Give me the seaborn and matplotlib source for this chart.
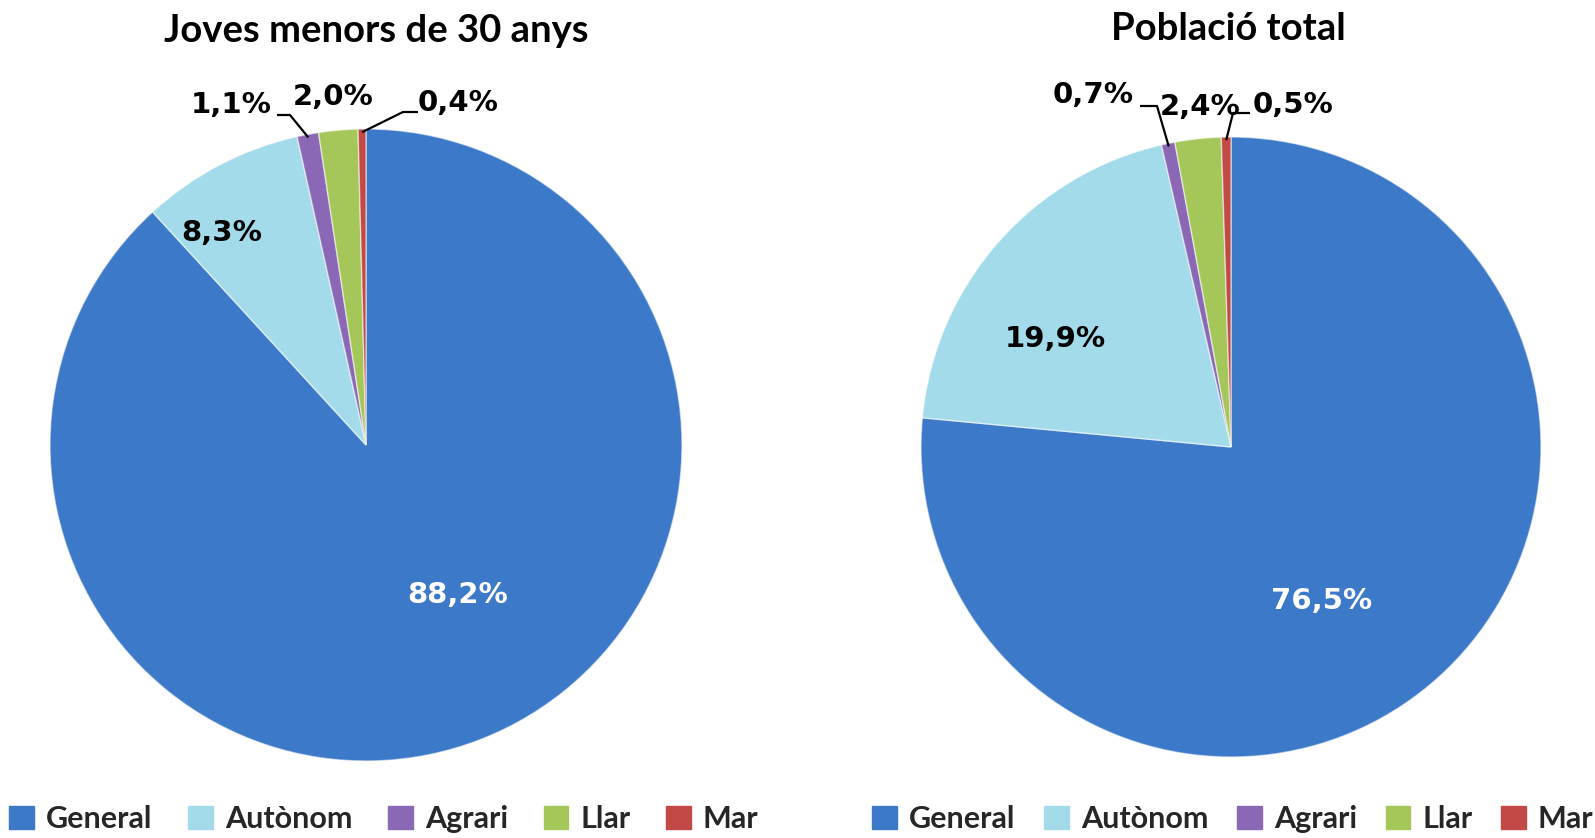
import numpy as np
import matplotlib
matplotlib.use("Agg")
import matplotlib.pyplot as plt
from matplotlib.patches import Patch
import seaborn as sns

# ---------------- data ----------------
categories = ["General", "Autònom", "Agrari", "Llar", "Mar"]
joves = [88.2, 8.3, 1.1, 2.0, 0.4]
total = [76.5, 19.9, 0.7, 2.4, 0.5]
titles = ["Joves menors de 30 anys", "Població total"]
colors = ["#3C79C8", "#A3DBEA", "#8A68B5", "#A5C75A", "#C24A46"]

sns.set_theme(style="white")
plt.rcParams["font.family"] = ["Lato", "DejaVu Sans"]

W, H = 1595, 838
fig = plt.figure(figsize=(W / 100, H / 100), dpi=100)
fig.patch.set_facecolor("white")


def fmt(v):
    return f"{v:.1f}".replace(".", ",") + "%"


def pix2data(ax, x, y):
    disp = fig.transFigure.transform((x / W, 1 - y / H))
    return ax.transData.inverted().transform(disp)


# layout per pie: center (px), radius (px), title pos, legend center
layouts = [
    dict(cx=366, cy=445, r=316, title=(376, 31), leg=(384, 819), colsp=1.17,
         inner=[(458, 595, "white"), (222, 233, "black")],
         outer={2: (231, 105), 3: (333, 97), 4: (458, 103)},
         leaders={2: [(277, 115), (290, 115)], 4: [(418, 112), (403, 112)]}),
    dict(cx=1231, cy=447, r=310, title=(1228, 29), leg=(1233, 819), colsp=0.94,
         inner=[(1322, 601, "white"), (1055, 339, "black")],
         outer={2: (1093, 95), 3: (1200, 107), 4: (1293, 105)},
         leaders={2: [(1140, 106), (1157, 106)], 4: [(1250, 113), (1233, 113)]}),
]

for vals, title, L in zip([joves, total], titles, layouts):
    cx, cy, r = L["cx"], L["cy"], L["r"]
    ax = fig.add_axes([(cx - r) / W, (H - cy - r) / H, 2 * r / W, 2 * r / H])
    ax.pie(vals, colors=colors, startangle=90, counterclock=False, radius=1,
           wedgeprops=dict(edgecolor=(1, 1, 1, 0.55), linewidth=1.0))
    ax.set_xlim(-1, 1)
    ax.set_ylim(-1, 1)
    ax.set_aspect("equal")
    ax.axis("off")

    # wedge mid angles from data
    cum = np.cumsum([0] + list(vals))
    total_v = cum[-1]
    mids = [90 - 360 * (cum[i] + vals[i] / 2) / total_v for i in range(len(vals))]

    for i, (px, py, col) in enumerate(L["inner"]):
        x, y = pix2data(ax, px, py)
        ax.text(x, y, fmt(vals[i]), ha="center", va="center", color=col,
                fontsize=21, fontweight="bold", family="DejaVu Sans")
    for i, (px, py) in L["outer"].items():
        x, y = pix2data(ax, px, py)
        ax.text(x, y, fmt(vals[i]), ha="center", va="center", color="black",
                fontsize=21, fontweight="bold", family="DejaVu Sans", clip_on=False)
    for i, pts in L["leaders"].items():
        a = np.deg2rad(mids[i])
        xs, ys = [], []
        for px, py in pts:
            x, y = pix2data(ax, px, py)
            xs.append(x); ys.append(y)
        xs.append(np.cos(a) * 0.99); ys.append(np.sin(a) * 0.99)
        ax.plot(xs, ys, color="black", lw=1.6, clip_on=False, solid_capstyle="butt")

    tx, ty = L["title"]
    fig.text(tx / W, 1 - ty / H, title, ha="center", va="center",
             fontsize=27.5, fontweight="bold", color="black")

    handles = [Patch(facecolor=c, edgecolor=c) for c in colors]
    lx, ly = L["leg"]
    fig.legend(handles, categories, loc="center", ncol=5,
               bbox_to_anchor=(lx / W, 1 - ly / H), frameon=False,
               prop=dict(family="Lato", weight="bold", size=22),
               handlelength=0.8, handleheight=0.8, handletextpad=0.4,
               columnspacing=L["colsp"], borderaxespad=0, borderpad=0)

fig.savefig("out.png", dpi=100, facecolor="white")
